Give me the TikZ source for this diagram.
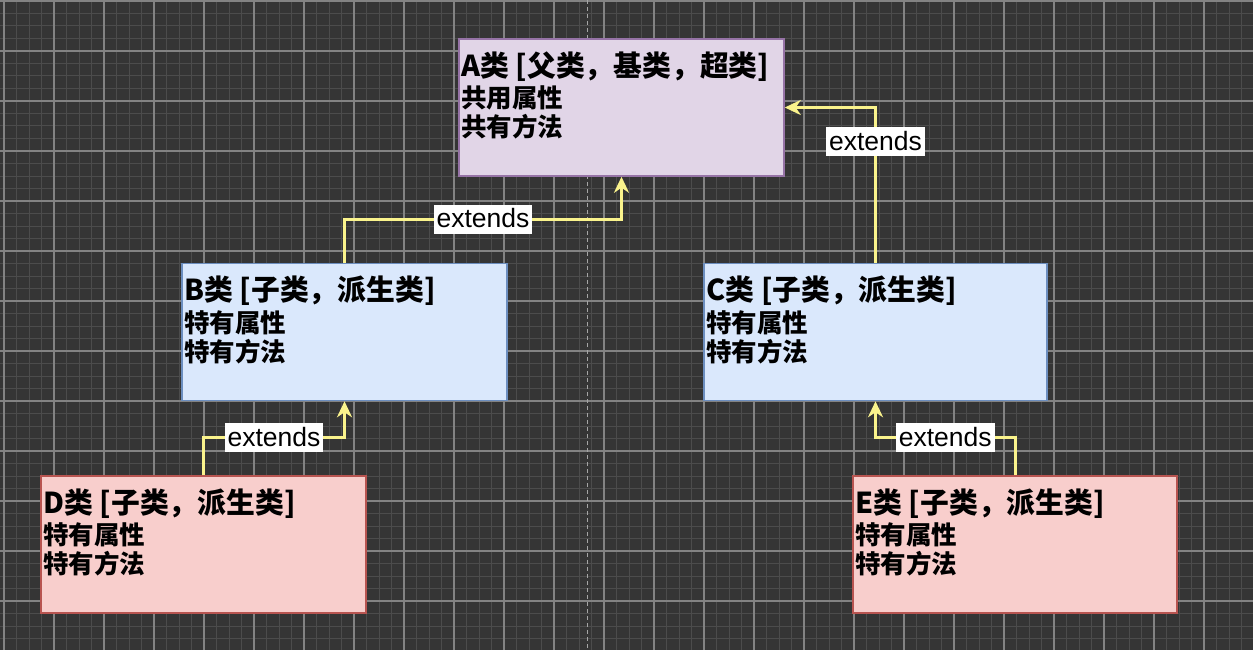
\documentclass[tikz,border=0pt]{standalone}
\usepackage{fontspec}
\setmainfont{Liberation Sans}
\newfontfamily\cjk{Noto Sans CJK SC}
\usetikzlibrary{arrows.meta,positioning,calc}

\definecolor{bgdark}{HTML}{353535}
\definecolor{gridminor}{HTML}{4C4C4C}
\definecolor{gridmajor}{HTML}{838383}
\definecolor{purplefill}{HTML}{E1D5E7}
\definecolor{purpleline}{HTML}{9673A6}
\definecolor{bluefill}{HTML}{DAE8FC}
\definecolor{blueline}{HTML}{6C8EBF}
\definecolor{redfill}{HTML}{F8CECC}
\definecolor{redline}{HTML}{B85450}
\definecolor{extyellow}{HTML}{FAF38C}

\tikzset{
  classbox/.style={draw, line width=1.5pt, minimum height=137pt, inner sep=0pt},
  superbox/.style={classbox, fill=purplefill, draw=purpleline},
  subbox/.style={classbox, fill=bluefill, draw=blueline},
  leafbox/.style={classbox, fill=redfill, draw=redline},
  ttl/.style={anchor=base west, inner sep=0pt, font=\cjk\bfseries\fontsize{28.8}{31}\selectfont},
  row/.style={anchor=base west, inner sep=0pt, font=\cjk\bfseries\fontsize{25.5}{28}\selectfont},
  ext/.style={draw=extyellow, line width=3pt,
    -{Stealth[length=16pt, width=15pt, inset=5pt, fill=extyellow]}},
  lbl/.style={fill=white, text=black, inner xsep=3pt, inner ysep=4pt,
    text height=19pt, text depth=2pt, font=\fontsize{26.5}{29}\selectfont}
}

\begin{document}
\begin{tikzpicture}[x=1pt, y=-1pt]
\fill[bgdark] (0,0) rectangle (1253,650);
\useasboundingbox (0,0) rectangle (1253,650);
% grid
\foreach \k in {0,...,100} \draw[gridminor, line width=1pt] ({4+12.5*\k},0) -- ++(0,650);
\foreach \k in {0,...,52} \draw[gridminor, line width=1pt] (0,{1+12.5*\k}) -- ++(1253,0);
\foreach \k in {0,...,25} \draw[gridmajor, line width=1.2pt] ({4+50*\k},0) -- ++(0,650);
\foreach \k in {0,...,13} \draw[gridmajor, line width=1.2pt] (0,{1+50*\k}) -- ++(1253,0);
\draw[gray!70, line width=1pt, dash pattern=on 4pt off 3pt] (587,0) -- (587,650);

\def\cls#1#2#3#4#5#6{%
  \node[#2] (#1) at #3 {};
  \node[ttl] (#1t) at ([shift={(3,38)}]#1.north west) {#4};
  \node[row] (#1a) at ([shift={(3,69.5)}]#1.north west) {#5};
  \node[row] (#1m) at ([shift={(3,98.5)}]#1.north west) {#6};}

\cls{A}{superbox, minimum width=325pt}{(621.5,107.5)}{A类 [父类，基类，超类]}{共用属性}{共有方法}
\cls{B}{subbox, minimum width=325pt}{(344.5,332)}{B类 [子类，派生类]}{特有属性}{特有方法}
\cls{C}{subbox, minimum width=343pt}{(875.5,332)}{C类 [子类，派生类]}{特有属性}{特有方法}
\cls{D}{leafbox, minimum width=325pt}{(203.5,544.5)}{D类 [子类，派生类]}{特有属性}{特有方法}
\cls{E}{leafbox, minimum width=324pt}{(1015,544.5)}{E类 [子类，派生类]}{特有属性}{特有方法}

% inheritance
\draw[ext] (B.north) -- ++(0,-43.5) -| node[lbl, pos=0.25] (lBA) {extends} (A.south);
\draw[ext] (C.north) |- node[lbl, pos=0.39] (lCA) {extends} (A.east);
\draw[ext] (D.north) -- ++(0,-37.5) -| node[lbl, pos=0.25] (lDB) {extends} (B.south);
\draw[ext] (E.north) -- ++(0,-37.5) -| node[lbl, pos=0.25] (lEC) {extends} (C.south);
\end{tikzpicture}
\end{document}
